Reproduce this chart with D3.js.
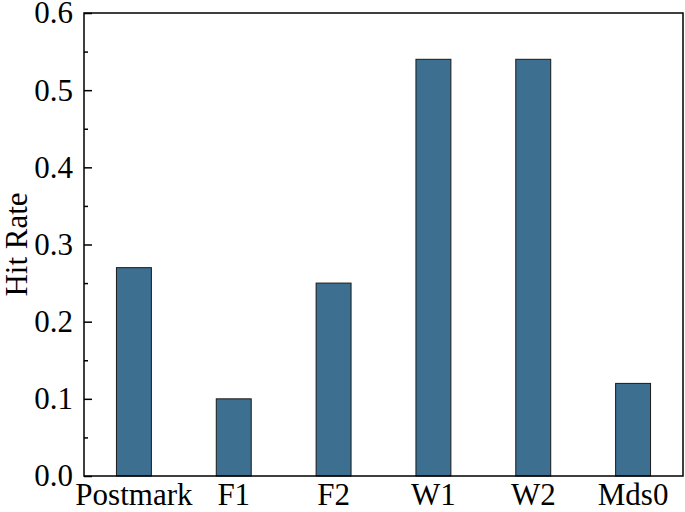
<!DOCTYPE html>
<html>
<head>
<meta charset="utf-8">
<script src="https://cdn.jsdelivr.net/npm/d3@7"></script>
<style>
  body { margin: 0; background: #fff; }
  text { font-family: "Liberation Serif", "Times New Roman", serif; fill: #000; }
</style>
</head>
<body>
<div id="chart"></div>
<script>
const categories = ["Postmark", "F1", "F2", "W1", "W2", "Mds0"];
const hitRate = [0.27, 0.10, 0.25, 0.54, 0.54, 0.12];
const yTicks = [0.0, 0.1, 0.2, 0.3, 0.4, 0.5, 0.6];
const yMinorTicks = [0.05, 0.15, 0.25, 0.35, 0.45, 0.55];

const width = 685, height = 512;
const margin = {top: 13, right: 2, bottom: 36, left: 84};
const fontSize = "31px";
const svg = d3.select("#chart").append("svg").attr("width", width).attr("height", height);

const x = d3.scaleBand().domain(categories).range([margin.left, width - margin.right]).paddingInner(0.65).paddingOuter(0.325);
const y = d3.scaleLinear().domain([0, 0.6]).range([height - margin.bottom, margin.top]);

// bars
svg.selectAll(".bar")
    .data(hitRate)
    .join("rect")
    .attr("class", "bar")
    .attr("x", (d, i) => x(categories[i]))
    .attr("y", d => y(d))
    .attr("width", x.bandwidth())
    .attr("height", d => y(0) - y(d))
    .attr("fill", "#3d6f91")
    .attr("stroke", "#1a1a1a")
    .attr("stroke-width", 1);

// frame
svg.append("rect")
    .attr("x", margin.left).attr("y", margin.top)
    .attr("width", width - margin.right - margin.left)
    .attr("height", height - margin.bottom - margin.top)
    .attr("fill", "none").attr("stroke", "#000").attr("stroke-width", 1.5);

// y axis, ticks inside
const yAxis = svg.append("g").attr("transform", `translate(${margin.left},0)`)
    .call(d3.axisRight(y).tickValues(yTicks).tickFormat(d3.format(".1f")).tickSize(8).tickPadding(0));
yAxis.select(".domain").remove();
yAxis.selectAll(".tick line").attr("stroke", "#000").attr("stroke-width", 1.5);
yAxis.selectAll(".tick text")
    .attr("x", -11).attr("dy", "0.32em")
    .attr("text-anchor", "end")
    .style("font-size", fontSize)
    .style("font-family", "'Liberation Serif', serif");

const yMinor = svg.append("g").attr("transform", `translate(${margin.left},0)`)
    .call(d3.axisRight(y).tickValues(yMinorTicks).tickFormat("").tickSize(4));
yMinor.select(".domain").remove();
yMinor.selectAll(".tick line").attr("stroke", "#000").attr("stroke-width", 1.5);

// x axis labels
const xAxis = svg.append("g").attr("transform", `translate(0,${height - margin.bottom})`)
    .call(d3.axisBottom(x).tickSize(0).tickPadding(6));
xAxis.select(".domain").remove();
xAxis.selectAll(".tick text")
    .attr("dy", "0.75em")
    .style("font-size", fontSize)
    .style("font-family", "'Liberation Serif', serif");

// y label
svg.append("text")
    .attr("transform", `translate(27,${(margin.top + height - margin.bottom) / 2}) rotate(-90)`)
    .attr("text-anchor", "middle")
    .style("font-size", fontSize)
    .text("Hit Rate");
</script>
</body>
</html>
